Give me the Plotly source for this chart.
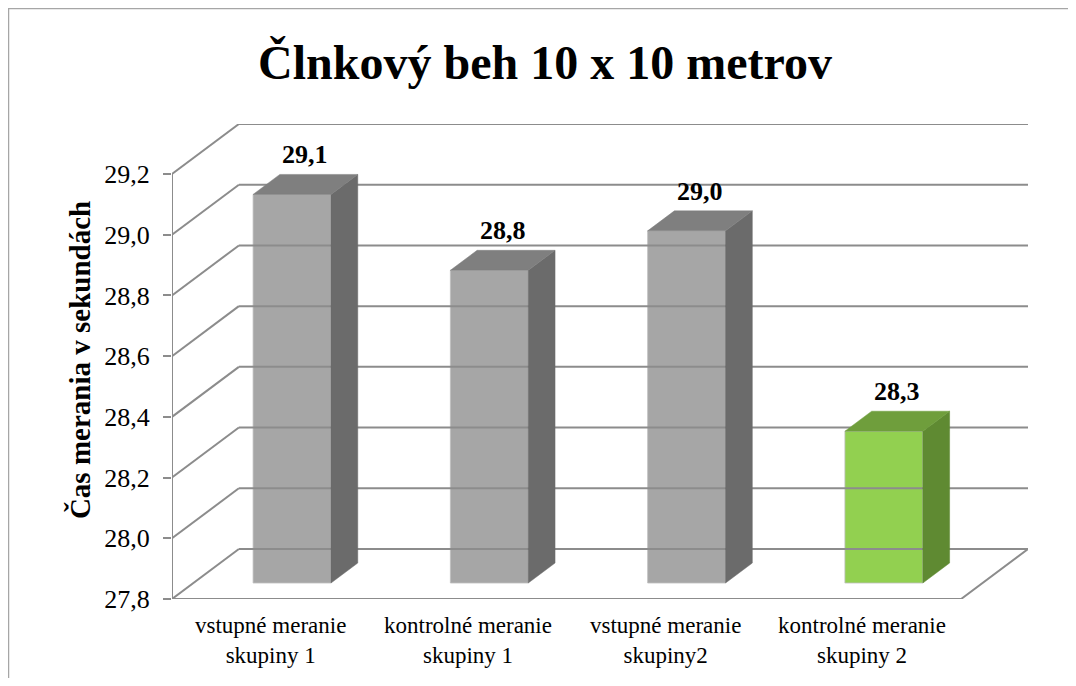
import plotly.graph_objects as go

# ---- data ----
categories = ["vstupné meranie<br>skupiny 1", "kontrolné meranie<br>skupiny 1",
              "vstupné meranie<br>skupiny2", "kontrolné meranie<br>skupiny 2"]
values = [29.08, 28.83, 28.96, 28.30]
y_ticks = [27.8, 28.0, 28.2, 28.4, 28.6, 28.8, 29.0, 29.2]
title_text = "Člnkový beh 10 x 10 metrov"
y_title = "Čas merania v sekundách"

# ---- styling / geometry ----
FONT = "'Liberation Serif', 'Times New Roman', 'DejaVu Serif', serif"
Y0 = y_ticks[0]
YMAX = y_ticks[-1]
DX = 0.339   # depth offset (category units)
DY = 0.1647  # depth offset (value units)
D1, D2 = 0.32, 0.72
W = 0.395
GRID = "#8c8c8c"
front_cols = ["#a6a6a6", "#a6a6a6", "#a6a6a6", "#92d050"]
top_cols = ["#7f7f7f", "#7f7f7f", "#7f7f7f", "#6f9e3c"]
side_cols = ["#6b6b6b", "#6b6b6b", "#6b6b6b", "#5f8a32"]
n = len(values)
XL, XR = -0.5, n - 0.5

FIG_W, FIG_H = 1060, 670
ML, MR, MT, MB = 164, 40, 116, 79
PW = FIG_W - ML - MR
PH = FIG_H - MT - MB

fig = go.Figure()

def line(xs, ys, color=GRID, width=2):
    fig.add_trace(go.Scatter(x=xs, y=ys, mode="lines", line=dict(color=color, width=width),
                             hoverinfo="skip", showlegend=False, cliponaxis=False))

for v in y_ticks:
    line([XL + DX, XR + DX], [v + DY, v + DY])
    line([XL, XL + DX], [v, v + DY])
line([XL, XR, XR + DX], [Y0, Y0, Y0 + DY])
line([XL, XL], [Y0, YMAX])

for i, v in enumerate(values):
    xl, xr = i - W / 2, i + W / 2
    fig.add_trace(go.Scatter(
        x=[xr + D1 * DX, xr + D1 * DX, xr + D2 * DX, xr + D2 * DX, xr + D1 * DX],
        y=[Y0 + D1 * DY, v + D1 * DY, v + D2 * DY, Y0 + D2 * DY, Y0 + D1 * DY],
        mode="lines", fill="toself", fillcolor=side_cols[i],
        line=dict(color=side_cols[i], width=0.5), hoverinfo="skip", showlegend=False))
    fig.add_trace(go.Scatter(
        x=[xl + D1 * DX, xr + D1 * DX, xr + D2 * DX, xl + D2 * DX, xl + D1 * DX],
        y=[v + D1 * DY, v + D1 * DY, v + D2 * DY, v + D2 * DY, v + D1 * DY],
        mode="lines", fill="toself", fillcolor=top_cols[i],
        line=dict(color=top_cols[i], width=0.5), hoverinfo="skip", showlegend=False))

fig.add_trace(go.Bar(
    x=[i + D1 * DX for i in range(n)],
    y=[v - Y0 for v in values],
    base=[Y0 + D1 * DY] * n,
    width=W,
    marker=dict(color=front_cols, line=dict(color="#bfbfbf", width=0.8)),
    showlegend=False, hoverinfo="skip"))

for i, v in enumerate(values):
    fig.add_annotation(x=i + (D1 + D2) / 2 * DX, y=v + D2 * DY,
                       text="<b>" + f"{v:.1f}".replace(".", ",") + "</b>",
                       showarrow=False, yanchor="bottom", yshift=3,
                       font=dict(family=FONT, size=26, color="black"))

for i, c in enumerate(categories):
    fig.add_annotation(x=i, y=0, yref="paper", text=c, showarrow=False,
                       yanchor="top", yshift=-12,
                       font=dict(family=FONT, size=23, color="black"))

fig.update_layout(
    width=FIG_W, height=FIG_H,
    margin=dict(l=ML, r=MR, t=MT, b=MB),
    paper_bgcolor="white", plot_bgcolor="rgba(0,0,0,0)",
    separators=", ",
    font=dict(family=FONT),
    title=dict(text="<b>" + title_text + "</b>", x=537 / FIG_W, xref="container",
               xanchor="center", y=1 - 54 / FIG_H, yref="container", yanchor="middle",
               font=dict(family=FONT, size=48, color="black")),
    xaxis=dict(range=[XL, XR + DX], showgrid=False, zeroline=False, showline=False,
               showticklabels=False, ticks=""),
    yaxis=dict(range=[Y0, YMAX + DY], showgrid=False, zeroline=False, showline=False,
               tickvals=y_ticks, tickformat=".1f", ticks="outside", ticklen=8,
               tickcolor=GRID, tickwidth=2,
               tickfont=dict(family=FONT, size=26, color="black"),
               ticklabelstandoff=8),
    shapes=[dict(type="rect", xref="paper", yref="paper",
                 x0=(0.5 - ML) / PW, x1=(FIG_W + 20 - ML) / PW,
                 y0=-(MB + 20) / PH, y1=1 + (MT - 0.5) / PH,
                 line=dict(color="#a6a6a6", width=1.5), layer="below")],
)
fig.add_annotation(x=(54 - ML) / PW, y=0.503, xref="paper", yref="paper",
                   text="<b>" + y_title + "</b>", textangle=-90, showarrow=False,
                   font=dict(family=FONT, size=29, color="black"))

fig.write_html("out.html")
